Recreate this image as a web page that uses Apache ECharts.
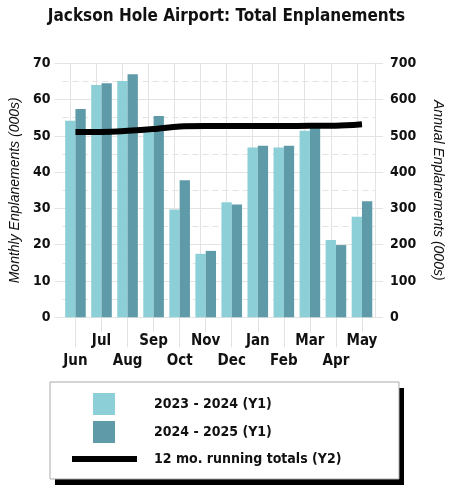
<!DOCTYPE html>
<html>
<head>
    <meta charset="utf-8">
    <title>Jackson Hole Airport: Total Enplanements</title>
    <script src="https://cdn.jsdelivr.net/npm/echarts@6/dist/echarts.min.js"></script>
    <style>
        html, body { margin: 0; padding: 0; background: #fff; }
    </style>
</head>
<body>
    <div id="main" style="width: 453px;height:500px;"></div>
    <script type="text/javascript">
        // data
        var months = ['Jun', 'Jul', 'Aug', 'Sep', 'Oct', 'Nov', 'Dec', 'Jan', 'Feb', 'Mar', 'Apr', 'May'];
        var y2324 = [54.2, 64.0, 65.1, 51.0, 29.7, 17.5, 31.7, 46.8, 46.8, 51.4, 21.3, 27.7];
        var y2425 = [57.4, 64.5, 67.0, 55.5, 37.8, 18.3, 31.1, 47.3, 47.3, 52.3, 19.9, 32.0];
        var running = [511, 511, 514, 519, 526, 527, 527, 527, 527, 528, 528, 532];
        var leftTicks = [0, 70, 10];   // min, max, step
        var rightTicks = [0, 700, 100];

        var narrow = "'DejaVu Sans Condensed', 'Liberation Sans Narrow', 'Arial Narrow', sans-serif";
        var gridColor = '#e3e3e3';

        var myChart = echarts.init(document.getElementById('main'));

        var option = {
            animation: false,
            title: {
                text: 'Jackson Hole Airport: Total Enplanements',
                left: 'center',
                top: 3,
                textStyle: { fontFamily: narrow, fontSize: 17, fontWeight: 'bold', color: '#111' }
            },
            grid: { left: 55.5, right: 74, top: 63.3, bottom: 182.7 },
            legend: [{
                data: ['2023 - 2024 (Y1)', '2024 - 2025 (Y1)'],
                orient: 'vertical',
                left: 93,
                top: 393,
                padding: 0,
                itemWidth: 22,
                itemHeight: 22,
                itemGap: 6,
                icon: 'rect',
                selectedMode: false,
                textStyle: { fontFamily: narrow, fontSize: 14, fontWeight: 'bold', color: '#111', padding: [0, 0, 0, 34] }
            }, {
                data: ['12 mo. running totals (Y2)'],
                left: 72,
                top: 452,
                padding: 0,
                itemWidth: 65,
                itemHeight: 6,
                icon: 'rect',
                selectedMode: false,
                textStyle: { fontFamily: narrow, fontSize: 14, fontWeight: 'bold', color: '#111', padding: [0, 0, 0, 12] }
            }],
            graphic: [
                { type: 'rect', z: -10, shape: { x: 55, y: 388, width: 349, height: 97 }, style: { fill: '#000' } },
                { type: 'rect', z: -9, shape: { x: 50, y: 382, width: 349, height: 97 }, style: { fill: '#fff', stroke: '#aaa', lineWidth: 1 } }
            ],
            xAxis: [{
                type: 'category',
                data: months,
                position: 'bottom',
                axisLine: { show: false },
                axisTick: { show: true, alignWithLabel: true, length: 15, interval: function (i) { return i % 2 === 1; }, lineStyle: { color: gridColor } },
                axisLabel: { interval: function (i) { return i % 2 === 1; }, margin: 16, fontFamily: narrow, fontSize: 15, fontWeight: 'bold', color: '#111' },
                splitLine: { show: false }
            }, {
                type: 'category',
                data: months,
                position: 'bottom',
                axisLine: { show: false },
                axisTick: { show: true, alignWithLabel: true, length: 30, interval: function (i) { return i % 2 === 0; }, lineStyle: { color: gridColor } },
                axisLabel: { interval: function (i) { return i % 2 === 0; }, margin: 36, fontFamily: narrow, fontSize: 15, fontWeight: 'bold', color: '#111' },
                splitLine: { show: false }
            }],
            yAxis: [{
                type: 'value',
                min: leftTicks[0],
                max: leftTicks[1],
                interval: leftTicks[2],
                name: 'Monthly Enplanements (000s)',
                nameLocation: 'middle',
                nameGap: 33,
                nameTextStyle: { fontFamily: "'Liberation Sans', Arial, sans-serif", fontSize: 14, fontStyle: 'italic', color: '#111' },
                axisLine: { show: false },
                axisTick: { show: true, length: 8, lineStyle: { color: gridColor } },
                axisLabel: { margin: 12, fontFamily: narrow, fontSize: 14, fontWeight: 'bold', color: '#111' },
                splitLine: { show: true, lineStyle: { color: gridColor } },
                minorTick: { show: false, splitNumber: 2 },
                minorSplitLine: { show: true, lineStyle: { color: gridColor, type: [6, 4] } }
            }, {
                type: 'value',
                min: rightTicks[0],
                max: rightTicks[1],
                interval: rightTicks[2],
                position: 'right',
                name: 'Annual Enplanements (000s)',
                nameLocation: 'middle',
                nameRotate: -90,
                nameGap: 56,
                nameTextStyle: { fontFamily: "'Liberation Sans', Arial, sans-serif", fontSize: 14, fontStyle: 'italic', color: '#111' },
                axisLine: { show: true, lineStyle: { color: gridColor } },
                axisTick: { show: true, length: 8, lineStyle: { color: gridColor } },
                axisLabel: { margin: 15, fontFamily: narrow, fontSize: 14, fontWeight: 'bold', color: '#111' },
                splitLine: { show: false }
            }],
            series: [{
                name: '2023 - 2024 (Y1)',
                type: 'bar',
                barWidth: 10.3,
                barGap: '0%',
                itemStyle: { color: '#8dcfd6' },
                // vertical grid lines through each month's centre
                markLine: {
                    silent: true,
                    symbol: 'none',
                    z: 1,
                    label: { show: false },
                    lineStyle: { color: gridColor, type: 'solid', width: 1 },
                    data: months.map(function (m) { return { xAxis: m }; })
                },
                data: y2324
            }, {
                name: '2024 - 2025 (Y1)',
                type: 'bar',
                barWidth: 10.3,
                barGap: '0%',
                itemStyle: { color: '#5e9aa7' },
                data: y2425
            }, {
                name: '12 mo. running totals (Y2)',
                type: 'line',
                yAxisIndex: 1,
                smooth: 0.3,
                symbol: 'none',
                itemStyle: { color: '#000' },
                lineStyle: { color: '#000', width: 6 },
                data: running
            }]
        };

        myChart.setOption(option);
    </script>
</body>
</html>
